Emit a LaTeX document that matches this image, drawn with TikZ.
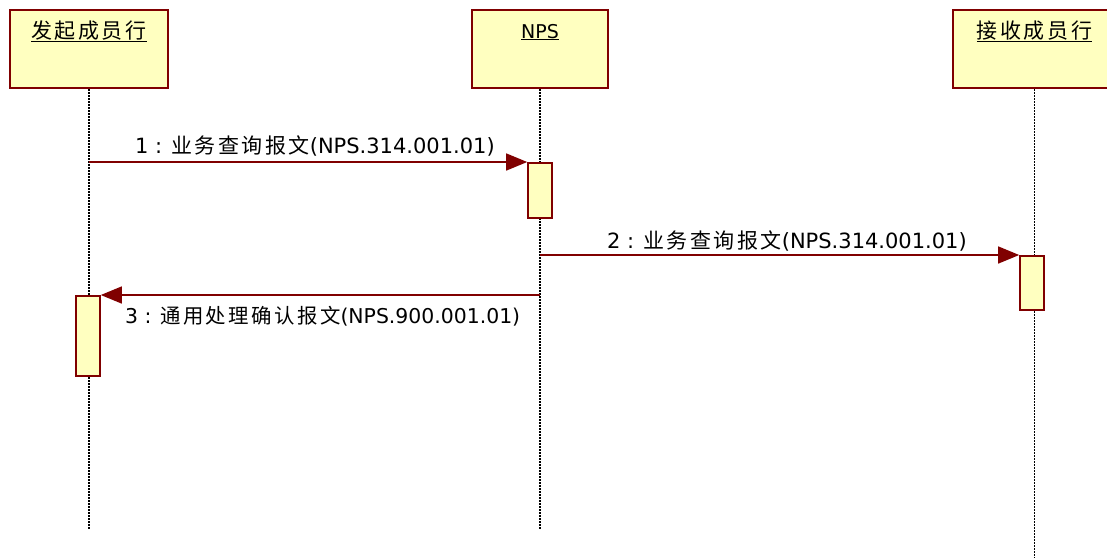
\documentclass[tikz,border=0pt]{standalone}
\usepackage{fontspec}
\setmainfont{DejaVu Sans}
\newfontfamily\cjk[LetterSpace=12]{Noto Sans CJK SC}
\usetikzlibrary{arrows.meta}
\definecolor{umlred}{RGB}{128,0,0}
\definecolor{umlfill}{RGB}{255,255,192}

\begin{document}
\begin{tikzpicture}[x=1pt, y=-1pt,
  every node/.style={font=\fontsize{21}{24}\selectfont},
  objbox/.style={draw=umlred, line width=2pt, fill=umlfill, minimum height=78pt, anchor=north, inner sep=0pt},
  objname/.style={anchor=base, inner sep=0pt},
  actbox/.style={draw=umlred, line width=1.6pt, fill=umlfill, minimum width=24pt, anchor=north, inner sep=0pt},
  lifeline/.style={line width=1.2pt, dash pattern=on 1.5pt off 1.5pt},
  msg/.style={umlred, line width=1.4pt, -{Triangle[length=21pt, width=17pt]}},
  msglabel/.style={anchor=base west, inner sep=0pt}]
\clip (0,0) rectangle (1107,558);
% objects
\node[objbox, minimum width=158pt] (sender) at (89,9) {};
\node[objbox, minimum width=136pt] (nps) at (540,9) {};
\node[objbox, minimum width=164pt] (receiver) at (1034.5,9) {};
\node[objname] (sendername) at ([yshift=-29pt]sender.north) {\cjk\underline{发起成员行}};
\node[objname, font=\fontsize{19}{22}\selectfont] (npsname) at ([yshift=-29pt]nps.north) {\underline{NPS}};
\node[objname] (receivername) at ([yshift=-29pt]receiver.north) {\cjk\underline{接收成员行}};
% lifelines
\coordinate (senderend) at (89,529);
\coordinate (npsend) at (540,529);
\coordinate (receiverend) at (1034.5,558);
\draw[lifeline] (sender.south) -- (senderend);
\draw[lifeline] (nps.south) -- (npsend);
\draw[lifeline] (receiver.south) -- (receiverend);
% activations
\node[actbox, minimum height=55pt] (npsact) at (540,162) {};
\node[actbox, minimum height=54pt] (receiveract) at (1032,255) {};
\node[actbox, minimum height=80pt] (senderact) at (88,295) {};
% messages
\draw[msg] (sender.south |- npsact.north) -- (npsact.north west);
\draw[msg] (nps.south |- receiveract.north) -- (receiveract.north west);
\draw[msg] (nps.south |- senderact.north) -- (senderact.north east);
\node[msglabel] (msgone) at (135,153) {1 : {\cjk 业务查询报文}(NPS.314.001.01)};
\node[msglabel] (msgtwo) at (607,248) {2 : {\cjk 业务查询报文}(NPS.314.001.01)};
\node[msglabel, font=\fontsize{20.4}{24}\selectfont] (msgthree) at (125,323) {3 : {\cjk 通用处理确认报文}(NPS.900.001.01)};
\end{tikzpicture}
\end{document}
